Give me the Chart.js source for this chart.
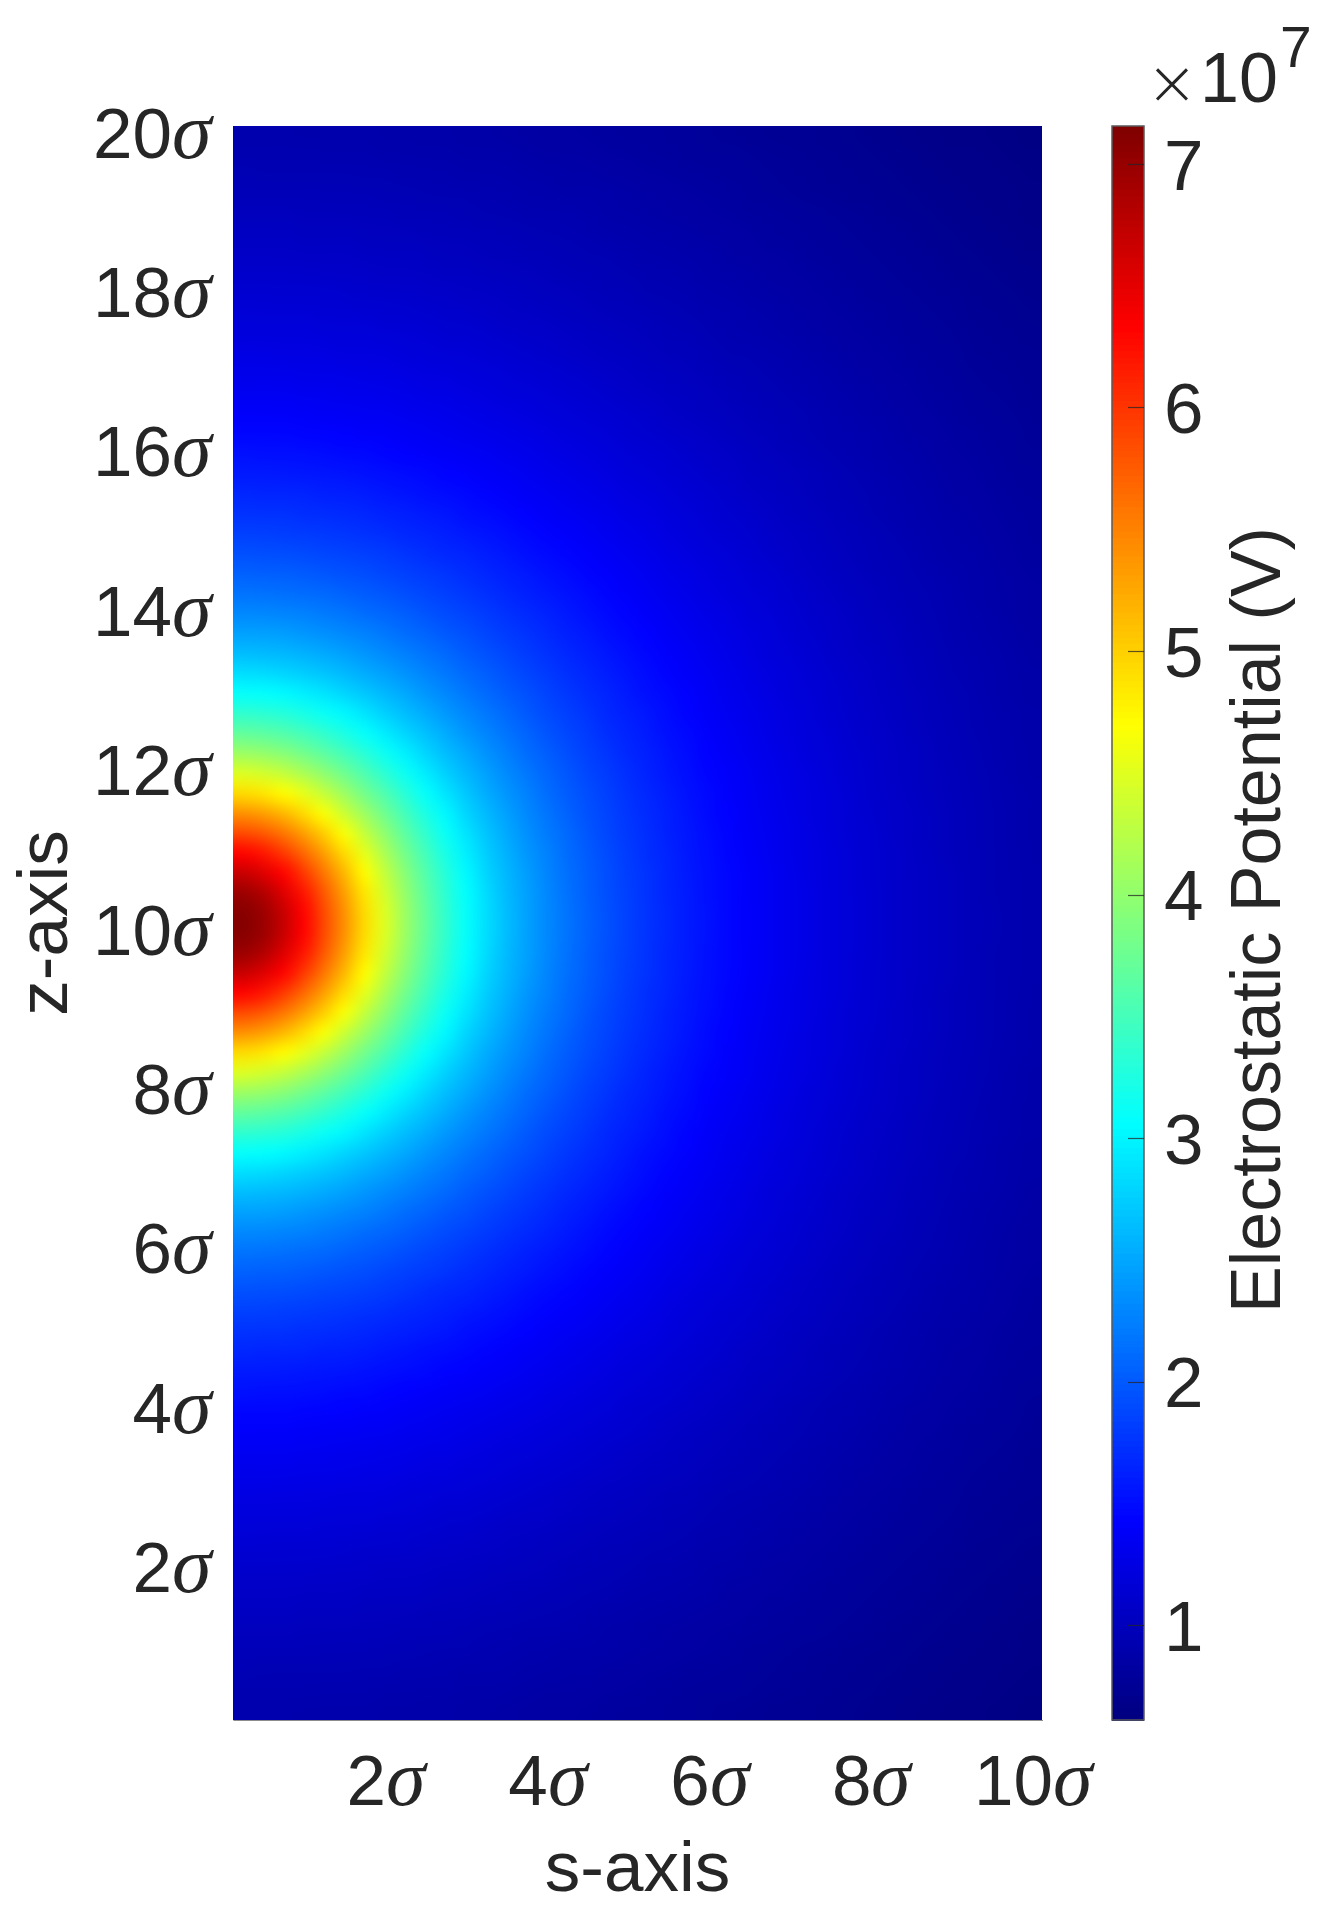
<!doctype html>
<html><head><meta charset="utf-8">
<style>
@font-face{font-family:"SigmaItalic";src:local("Liberation Serif Italic"),local("LiberationSerif-Italic");unicode-range:U+03C3;size-adjust:112%;}
html,body{margin:0;padding:0;background:#fff}
canvas{display:block}
</style>
<script src="https://cdn.jsdelivr.net/npm/chart.js@4"></script>
</head><body>
<canvas id="c" width="1331" height="1914"></canvas>
<script>
// Tick labels
const sTicks = [2, 4, 6, 8, 10];
const zTicks = [2, 4, 6, 8, 10, 12, 14, 16, 18, 20];
const colorbarTicks = [1, 2, 3, 4, 5, 6, 7];
const sTitle = "s-axis", zTitle = "z-axis", colorbarTitle = "Electrostatic Potential (V)";
const colorMin = 0.61, colorMax = 7.156;   // units of 1e7 V
const cellStep = 0.25;                     // sigma per table cell

// Potential, units of 1e5 V. Row k is the strip k..k+1 cells
// away from z = 10 sigma (the picture is mirrored about that line); column = s cell.
const potentialRows = [
[711,697,669,632,587,541,493,448,407,370,338,310,286,265,247,231,217,205,194,184,175,167,159,153,146,141,135,130,126,121,118,114,110,107,104,101,98,96,93,91],
[697,683,655,620,577,532,486,442,402,366,335,308,284,263,246,230,216,204,193,183,174,166,159,152,146,140,135,130,126,121,117,114,110,107,104,101,98,95,93,91],
[669,655,632,598,558,516,473,432,394,360,330,303,280,261,244,228,215,203,192,182,174,166,158,152,146,140,135,130,125,121,117,113,110,107,104,101,98,95,93,91],
[632,620,598,567,532,493,454,416,381,350,322,297,275,257,240,226,212,201,190,181,172,165,157,151,145,139,134,129,125,121,117,113,110,106,103,100,98,95,93,90],
[587,577,558,532,501,466,432,398,366,338,312,290,269,252,236,222,210,198,188,179,171,163,156,150,144,138,133,129,124,120,116,113,109,106,103,100,97,95,92,90],
[541,532,516,493,466,437,407,378,350,324,302,280,262,246,231,218,206,195,186,177,169,162,155,148,143,137,132,128,123,119,116,112,109,106,103,100,97,95,92,90],
[493,486,473,454,432,407,381,357,332,310,290,271,254,239,226,213,202,192,183,174,167,160,153,147,141,136,131,127,123,119,115,111,108,105,102,99,97,94,92,90],
[448,442,432,416,398,378,357,335,314,295,277,261,246,232,220,208,198,188,180,172,164,157,151,145,140,135,130,126,122,118,114,111,107,104,101,99,96,94,91,89],
[407,402,394,381,366,350,332,314,297,280,265,251,237,225,213,203,193,184,176,168,162,155,149,143,138,133,129,125,120,117,113,110,107,104,101,98,96,93,91,89],
[370,366,360,350,338,324,310,295,280,267,253,240,228,217,207,197,188,180,172,165,159,152,147,141,136,132,127,123,119,116,112,109,106,103,100,98,95,93,90,88],
[338,335,330,322,312,302,290,277,265,253,241,230,220,210,200,191,183,176,168,162,156,150,144,139,134,130,126,122,118,114,111,108,105,102,99,97,94,92,90,88],
[310,308,303,297,290,280,271,261,251,240,230,220,211,202,194,186,178,171,165,158,152,147,142,137,132,128,124,120,117,113,110,107,104,101,99,96,94,91,89,87],
[286,284,280,275,269,262,254,246,237,228,220,211,203,195,187,180,173,167,161,155,149,144,139,135,130,126,122,119,115,112,109,106,103,100,98,95,93,91,89,87],
[265,263,261,257,252,246,239,232,225,217,210,202,195,188,181,174,168,162,157,151,146,141,137,132,128,124,120,117,114,110,107,105,102,99,97,94,92,90,88,86],
[247,246,244,240,236,231,226,220,213,207,200,194,187,181,175,169,163,158,152,147,143,138,134,130,126,122,119,115,112,109,106,103,101,98,96,93,91,89,87,85],
[231,230,228,226,222,218,213,208,203,197,191,186,180,174,169,164,158,153,148,144,139,135,131,127,124,120,117,114,110,108,105,102,100,97,95,93,90,88,86,84],
[217,216,215,212,210,206,202,198,193,188,183,178,173,168,163,158,154,149,145,140,136,132,128,125,121,118,115,112,109,106,103,101,98,96,94,92,89,87,86,84],
[205,204,203,201,198,195,192,188,184,180,176,171,167,162,158,153,149,145,141,137,133,129,126,122,119,116,113,110,107,104,102,99,97,95,93,91,89,87,85,83],
[194,193,192,190,188,186,183,180,176,172,168,165,161,157,152,148,145,141,137,133,130,126,123,120,117,114,111,108,105,103,100,98,96,94,91,89,88,86,84,82],
[184,183,182,181,179,177,174,172,168,165,162,158,155,151,147,144,140,137,133,130,127,123,120,117,114,112,109,106,104,101,99,97,95,92,90,88,87,85,83,81],
[175,174,174,172,171,169,167,164,162,159,156,152,149,146,143,139,136,133,130,127,124,121,118,115,112,110,107,104,102,100,98,95,93,91,89,87,86,84,82,81],
[167,166,166,165,163,162,160,157,155,152,150,147,144,141,138,135,132,129,126,123,121,118,115,113,110,107,105,103,100,98,96,94,92,90,88,86,85,83,81,80],
[159,159,158,157,156,155,153,151,149,147,144,142,139,137,134,131,128,126,123,120,118,115,113,110,108,105,103,101,99,97,95,93,91,89,87,85,84,82,80,79],
[153,152,152,151,150,148,147,145,143,141,139,137,135,132,130,127,125,122,120,117,115,113,110,108,106,103,101,99,97,95,93,91,89,88,86,84,83,81,79,78],
[146,146,146,145,144,143,141,140,138,136,134,132,130,128,126,124,121,119,117,114,112,110,108,106,103,101,99,97,95,93,92,90,88,86,85,83,82,80,79,77],
[141,140,140,139,138,137,136,135,133,132,130,128,126,124,122,120,118,116,114,112,110,107,105,103,101,99,97,96,94,92,90,88,87,85,84,82,80,79,78,76],
[135,135,135,134,133,132,131,130,129,127,126,124,122,120,119,117,115,113,111,109,107,105,103,101,99,97,96,94,92,90,89,87,85,84,82,81,79,78,77,75],
[130,130,130,129,129,128,127,126,125,123,122,120,119,117,115,114,112,110,108,106,104,103,101,99,97,96,94,92,91,89,87,86,84,83,81,80,78,77,76,74],
[126,126,125,125,124,123,123,122,120,119,118,117,115,114,112,110,109,107,105,104,102,100,99,97,95,94,92,91,89,87,86,84,83,81,80,79,77,76,75,74],
[121,121,121,121,120,119,119,118,117,116,114,113,112,110,109,108,106,104,103,101,100,98,97,95,93,92,90,89,87,86,84,83,82,80,79,78,76,75,74,73],
[118,117,117,117,116,116,115,114,113,112,111,110,109,107,106,105,103,102,100,99,98,96,95,93,92,90,89,87,86,84,83,82,80,79,78,77,75,74,73,72],
[114,114,113,113,113,112,111,111,110,109,108,107,106,105,103,102,101,99,98,97,95,94,93,91,90,88,87,86,84,83,82,80,79,78,77,76,74,73,72,71],
[110,110,110,110,109,109,108,107,107,106,105,104,103,102,101,100,98,97,96,95,93,92,91,89,88,87,85,84,83,82,80,79,78,77,76,74,73,72,71,70],
[107,107,107,106,106,106,105,104,104,103,102,101,100,99,98,97,96,95,94,92,91,90,89,88,86,85,84,83,81,80,79,78,77,76,75,73,72,71,70,69],
[104,104,104,103,103,103,102,101,101,100,99,99,98,97,96,95,94,93,91,90,89,88,87,86,85,84,82,81,80,79,78,77,76,75,73,72,71,70,69,68],
[101,101,101,100,100,100,99,99,98,98,97,96,95,94,93,93,92,91,89,88,87,86,85,84,83,82,81,80,79,78,77,76,74,73,72,71,70,69,68,67],
[98,98,98,98,97,97,97,96,96,95,94,94,93,92,91,90,89,89,88,87,86,85,84,83,82,80,79,78,77,76,75,74,73,72,71,70,69,68,68,67],
[96,95,95,95,95,95,94,94,93,93,92,91,91,90,89,88,87,87,86,85,84,83,82,81,80,79,78,77,76,75,74,73,72,71,70,69,68,68,67,66],
[93,93,93,93,92,92,92,91,91,90,90,89,89,88,87,86,86,85,84,83,82,81,80,79,79,78,77,76,75,74,73,72,71,70,69,68,68,67,66,65],
[91,91,91,90,90,90,90,89,89,88,88,87,87,86,85,84,84,83,82,81,81,80,79,78,77,76,75,74,74,73,72,71,70,69,68,67,67,66,65,64]
];

const ink = "#262626";
const fontFamily = '"SigmaItalic","Liberation Sans",Arial,sans-serif';
const plainFamily = '"Liberation Sans",Arial,sans-serif';
const jetStops = [[0,0,0,.5],[.125,0,0,1],[.375,0,1,1],[.625,1,1,0],[.875,1,0,0],[1,.5,0,0]];

function jet(v){
  const t = Math.min(1, Math.max(0, (v - colorMin) / (colorMax - colorMin)));
  for (let k = 1; k < jetStops.length; k++) {
    const a = jetStops[k-1], b = jetStops[k];
    if (t <= b[0]) {
      const f = (t - a[0]) / (b[0] - a[0]);
      return [1,2,3].map(c => Math.round(255 * (a[c] + (b[c] - a[c]) * f)));
    }
  }
  return [128,0,0];
}

// One point per table cell, mirrored about z = 10 sigma.
const cells = [];
potentialRows.forEach((row, k) => row.forEach((v, i) => {
  const s = (i + .5) * cellStep, dz = (k + .5) * cellStep;
  cells.push({x: s, y: 10 + dz, v: v / 100});
  cells.push({x: s, y: 10 - dz, v: v / 100});
}));

const heatmap = {
  id: "heatmap",
  beforeDatasetsDraw(chart) {
    const {x, y} = chart.scales, ctx = chart.ctx;
    const cols = Math.round((x.max - x.min) / cellStep), rows = Math.round((y.max - y.min) / cellStep);
    const off = document.createElement("canvas");
    off.width = cols; off.height = rows;
    const octx = off.getContext("2d"), img = octx.createImageData(cols, rows);
    chart.data.datasets[0].data.forEach(p => {
      const ci = Math.floor((p.x - x.min) / cellStep), ri = Math.floor((y.max - p.y) / cellStep);
      const [r,g,b] = jet(p.v), o = (ri * cols + ci) * 4;
      img.data[o] = r; img.data[o+1] = g; img.data[o+2] = b; img.data[o+3] = 255;
    });
    octx.putImageData(img, 0, 0);
    ctx.save();
    ctx.imageSmoothingEnabled = true;
    ctx.imageSmoothingQuality = "high";
    const l = x.getPixelForValue(x.min), r = x.getPixelForValue(x.max);
    const t = y.getPixelForValue(y.max), b = y.getPixelForValue(y.min);
    ctx.drawImage(off, l, t, r - l, b - t);
    ctx.restore();
  }
};

const colorbar = {
  id: "colorbar",
  afterDraw(chart) {
    const cb = chart.scales.cb, ctx = chart.ctx;
    const left = 1112, right = 1144;
    ctx.save();
    const levels = 256;
    for (let n = 0; n < levels; n++) {
      const v0 = colorMin + (colorMax - colorMin) * n / levels;
      const v1 = colorMin + (colorMax - colorMin) * (n + 1) / levels;
      const [r,g,b] = jet((v0 + v1) / 2);
      ctx.fillStyle = `rgb(${r},${g},${b})`;
      const yA = cb.getPixelForValue(v0), yB = cb.getPixelForValue(v1);
      ctx.fillRect(left, yB, right - left, yA - yB + 1);
    }
    ctx.strokeStyle = "#5a5a5a"; ctx.lineWidth = 1.5;
    ctx.strokeRect(left, cb.top, right - left, cb.bottom - cb.top);
    ctx.lineWidth = 1.2; ctx.strokeStyle = "rgba(38,38,38,.75)";
    colorbarTicks.forEach(v => {
      const py = Math.round(cb.getPixelForValue(v)) + .5;
      ctx.beginPath(); ctx.moveTo(right, py); ctx.lineTo(right - 16, py); ctx.stroke();
    });
    ctx.fillStyle = ink;
    ctx.textAlign = "center"; ctx.textBaseline = "middle";
    ctx.font = "70px " + plainFamily;
    ctx.translate(1261, 920); ctx.rotate(-Math.PI / 2);
    ctx.fillText(colorbarTitle, 0, 0);
    ctx.restore();
    ctx.save();
    ctx.fillStyle = ink; ctx.textBaseline = "alphabetic";
    ctx.textAlign = "center";
    ctx.font = '200 62px "DejaVu Sans",' + plainFamily;
    ctx.fillText("×", 1172, 104);
    ctx.textAlign = "left";
    ctx.font = "70px " + plainFamily;
    ctx.fillText("10", 1200, 102);
    ctx.font = "57px " + plainFamily;
    ctx.fillText("7", 1280, 67);
    ctx.restore();
  }
};

function start() {
  new Chart(document.getElementById("c"), {
    type: "scatter",
    data: {datasets: [{label: "Electrostatic Potential (V)", data: cells, pointRadius: 0, pointHoverRadius: 0, showLine: false}]},
    plugins: [heatmap, colorbar],
    options: {
      responsive: false, devicePixelRatio: 1, animation: false,
      layout: {padding: {top: 126, left: 0, right: 0, bottom: 0}},
      plugins: {legend: {display: false}, tooltip: {enabled: false}},
      scales: {
        x: {
          type: "linear", min: 0, max: 10,
          afterFit(s) { s.height = 194; },
          afterBuildTicks(s) { s.ticks = sTicks.map(v => ({value: v})); },
          grid: {display: false, drawTicks: false},
          border: {display: true, color: "#8c8c8c", width: 1},
          ticks: {color: ink, font: {family: fontFamily, size: 71}, padding: 23, labelOffset: -9, maxRotation: 0, autoSkip: false,
                  callback: v => v + "σ"},
          title: {display: true, text: sTitle, color: ink, font: {family: plainFamily, size: 71}, padding: {top: 0, bottom: 0}}
        },
        y: {
          type: "linear", min: 0, max: 20,
          afterFit(s) { s.width = 233; s.paddingTop = 0; s.paddingBottom = 0; },
          afterBuildTicks(s) { s.ticks = zTicks.map(v => ({value: v})); },
          grid: {display: false, drawTicks: false},
          border: {display: true, color: "#b9b9d9", width: 1},
          ticks: {color: ink, font: {family: fontFamily, size: 71}, padding: 22, labelOffset: 12, autoSkip: false,
                  callback: v => v + "σ"},
          title: {display: true, text: zTitle, color: ink, font: {family: plainFamily, size: 71}, padding: {top: 5, bottom: 0}}
        },
        cb: {
          type: "linear", position: "right", min: colorMin, max: colorMax,
          afterFit(s) { s.width = 289; s.paddingTop = 0; s.paddingBottom = 0; },
          afterBuildTicks(s) { s.ticks = colorbarTicks.map(v => ({value: v})); },
          grid: {display: false, drawTicks: false},
          border: {display: false},
          ticks: {color: ink, font: {family: plainFamily, size: 71}, padding: 122, labelOffset: 6, autoSkip: false, callback: v => String(v)}
        }
      }
    }
  });
}
const ready = document.fonts && document.fonts.load ? document.fonts.load("71px SigmaItalic", "σ") : Promise.resolve();
ready.then(start, start);
</script>
</body></html>
